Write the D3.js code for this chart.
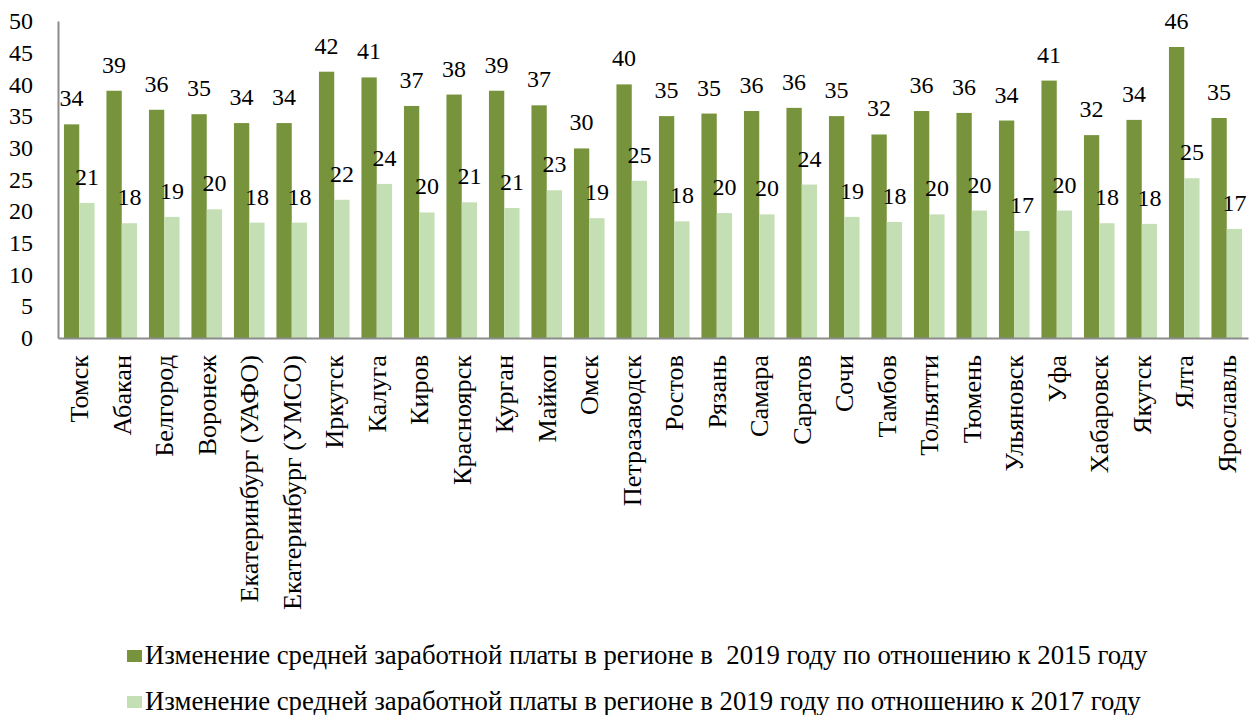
<!DOCTYPE html>
<html>
<head>
<meta charset="utf-8">
<script src="https://cdn.jsdelivr.net/npm/d3@7"></script>
</head>
<body style="margin:0;background:#fff">
<svg id="chart" width="1251" height="715"></svg>
<script>
// Cities
const cities = ["Томск", "Абакан", "Белгород", "Воронеж", "Екатеринбург (УАФО)", "Екатеринбург (УМСО)",
  "Иркутск", "Калуга", "Киров", "Красноярск", "Курган", "Майкоп", "Омск", "Петразаводск", "Ростов",
  "Рязань", "Самара", "Саратов", "Сочи", "Тамбов", "Тольятти", "Тюмень", "Ульяновск", "Уфа",
  "Хабаровск", "Якутск", "Ялта", "Ярославль"];

// Change of average wage, 2019 vs 2015 (%)
const change2015 = [33.7, 39.0, 36.0, 35.3, 33.9, 33.9, 42.0, 41.1, 36.6, 38.4, 39.0, 36.7, 29.9, 40.0, 35.0,
  35.4, 35.8, 36.3, 35.0, 32.1, 35.8, 35.5, 34.3, 40.6, 32.0, 34.4, 45.9, 34.7];

// Change of average wage, 2019 vs 2017 (%)
const change2017 = [21.3, 18.1, 19.1, 20.3, 18.2, 18.2, 21.8, 24.3, 19.8, 21.4, 20.5, 23.3, 18.9, 24.8, 18.4,
  19.7, 19.5, 24.2, 19.1, 18.3, 19.5, 20.1, 16.9, 20.1, 18.1, 18.0, 25.2, 17.2];

const seriesNames = [
  "Изменение средней заработной платы в регионе в  2019 году по отношению к 2015 году",
  "Изменение средней заработной платы в регионе в 2019 году по отношению к 2017 году"
];

const yTicks = [0, 5, 10, 15, 20, 25, 30, 35, 40, 45, 50];

const colors = ["#77933c", "#c4dfb3"];
const FONT = "Liberation Serif";

const svg = d3.select("#chart");
const plot = { left: 58, right: 1248, top: 21, bottom: 338 };

const x = d3.scaleBand().domain(cities).range([plot.left, plot.right]).paddingInner(0.28).paddingOuter(0.14);
const xSub = d3.scaleBand().domain([0, 1]).range([0, x.bandwidth()]);
const y = d3.scaleLinear().domain([0, 50]).range([plot.bottom, plot.top]);

const rows = cities.map((c, i) => ({ city: c, values: [change2015[i], change2017[i]] }));

// Bars
const groups = svg.append("g").selectAll("g").data(rows).join("g")
  .attr("transform", d => `translate(${x(d.city)},0)`);

groups.selectAll("rect").data(d => d.values.map((v, k) => ({ v, k }))).join("rect")
  .attr("x", d => xSub(d.k))
  .attr("width", xSub.bandwidth())
  .attr("y", d => y(d.v))
  .attr("height", d => y(0) - y(d.v))
  .attr("fill", d => colors[d.k]);

// Value labels
groups.selectAll("text.val").data(d => d.values.map((v, k) => ({ v, k }))).join("text")
  .attr("class", "val")
  .attr("x", d => xSub(d.k) + xSub.bandwidth() / 2)
  .attr("y", d => y(d.v) - 18)
  .attr("text-anchor", "middle")
  .attr("font-family", FONT)
  .attr("font-size", 24)
  .attr("fill", "#000")
  .text(d => d3.format(".0f")(d.v));

// Y axis
const yAxis = svg.append("g").attr("transform", `translate(${plot.left},0)`)
  .call(d3.axisLeft(y).tickValues(yTicks).tickSize(0).tickPadding(25).tickFormat(d3.format("d")));
yAxis.attr("font-family", FONT).attr("font-size", 24);
yAxis.select(".domain").attr("stroke", "#8c8c8c").attr("stroke-width", 2);
yAxis.selectAll("text").attr("font-family", FONT).attr("font-size", 24).attr("fill", "#000");

// X axis
const xAxis = svg.append("g").attr("transform", `translate(0,${plot.bottom})`)
  .call(d3.axisBottom(x).tickSize(0).tickSizeOuter(0));
xAxis.attr("font-family", FONT).attr("font-size", 25);
xAxis.select(".domain").attr("stroke", "#8c8c8c").attr("stroke-width", 2);
const catLabels = xAxis.selectAll("text")
  .attr("transform", "rotate(-90)")
  .attr("x", -17)
  .attr("y", 0)
  .attr("dy", "0.35em")
  .attr("text-anchor", "end")
  .attr("font-family", FONT)
  .attr("font-size", 25)
  .attr("fill", "#000");

// Size the category labels so "Томск" + "Петразаводск" span about 219px together
{
  let measured = 0;
  catLabels.each(function (d) { if (d === "Томск" || d === "Петразаводск") measured += this.getComputedTextLength(); });
  if (measured > 0) catLabels.attr("font-size", 25 * 219 / measured);
}

// Legend
const legend = svg.append("g").selectAll("g").data(seriesNames).join("g")
  .attr("transform", (d, i) => `translate(127,${664 + i * 46})`);
legend.append("rect").attr("x", 0).attr("y", -14).attr("width", 15).attr("height", 12)
  .attr("fill", (d, i) => colors[i]);
const legendText = legend.append("text").attr("x", 18).attr("y", 0)
  .attr("font-family", FONT)
  .attr("font-size", 26)
  .attr("fill", "#000")
  .style("white-space", "pre")
  .text(d => d);

// Legend line width of about 1003px
{
  const w = legendText.node().getComputedTextLength();
  if (w > 0) legendText.attr("font-size", 26 * 1003 / w);
}
</script>
</body>
</html>
